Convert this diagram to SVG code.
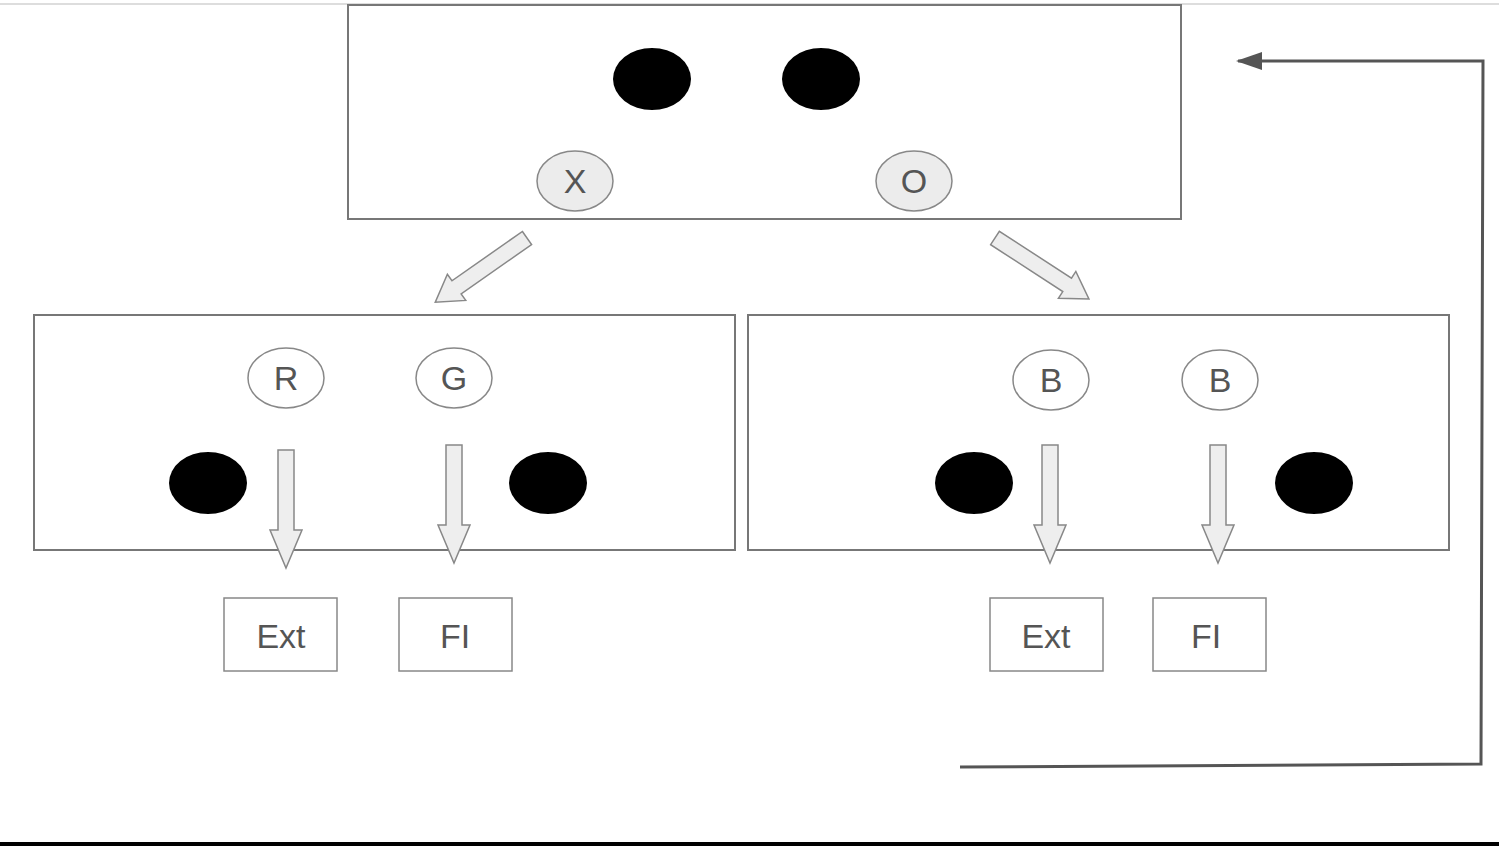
<svg xmlns="http://www.w3.org/2000/svg" xmlns:xlink="http://www.w3.org/1999/xlink" width="1499" height="846" viewBox="0 0 1499 846">
<style>
.box{fill:#fff;stroke:#777;stroke-width:2}
.lbl{fill:#fff;stroke:#888;stroke-width:1.5}
.dot{fill:#000}
.oval{fill:#ececec;stroke:#888;stroke-width:1.5}
.ovalw{fill:#fff;stroke:#888;stroke-width:1.5}
.t{font-family:"Liberation Sans",Arial,sans-serif;font-size:34px;fill:#555;text-anchor:middle}
.blk{fill:#eee;stroke:#888;stroke-width:1.5}
</style>
<defs>
<path id="arr" d="M-8,0 L8,0 L8,80 L16,80 L0,118 L-16,80 L-8,80 Z"/>
<path id="darr" d="M-8,0 L8,0 L8,86 L16,86 L0,112 L-16,86 L-8,86 Z"/>
<marker id="ah" markerWidth="26" markerHeight="18" refX="24" refY="9" orient="auto" markerUnits="userSpaceOnUse"><path d="M26,9 L0,0 L0,18 Z" fill="#555"/></marker>
</defs>
<rect width="1499" height="846" fill="#fff"/>
<line x1="0" y1="4" x2="1499" y2="4" stroke="#ddd" stroke-width="2"/>
<rect x="0" y="842" width="1499" height="4" fill="#000"/>
<g id="top"><rect class="box" x="348" y="5" width="833" height="214"/>
<ellipse class="dot" cx="652" cy="79" rx="39" ry="31"/><ellipse class="dot" cx="821" cy="79" rx="39" ry="31"/>
<ellipse class="oval" cx="575" cy="181" rx="38" ry="30"/><text class="t" x="575" y="193">X</text>
<ellipse class="oval" cx="914" cy="181" rx="38" ry="30"/><text class="t" x="914" y="193">O</text></g>
<g id="left"><rect class="box" x="34" y="315" width="701" height="235"/>
<ellipse class="ovalw" cx="286" cy="378" rx="38" ry="30"/><text class="t" x="286" y="390">R</text>
<ellipse class="ovalw" cx="454" cy="378" rx="38" ry="30"/><text class="t" x="454" y="390">G</text>
<ellipse class="dot" cx="208" cy="483" rx="39" ry="31"/><ellipse class="dot" cx="548" cy="483" rx="39" ry="31"/></g>
<g id="right"><rect class="box" x="748" y="315" width="701" height="235"/>
<ellipse class="ovalw" cx="1051" cy="380" rx="38" ry="30"/><text class="t" x="1051" y="392">B</text>
<ellipse class="ovalw" cx="1220" cy="380" rx="38" ry="30"/><text class="t" x="1220" y="392">B</text>
<ellipse class="dot" cx="974" cy="483" rx="39" ry="31"/><ellipse class="dot" cx="1314" cy="483" rx="39" ry="31"/></g>
<g id="ext1"><rect class="lbl" x="224" y="598" width="113" height="73"/><text class="t" x="281" y="648">Ext</text></g>
<g id="fi1"><rect class="lbl" x="399" y="598" width="113" height="73"/><text class="t" x="455" y="648">FI</text></g>
<g id="ext2"><rect class="lbl" x="990" y="598" width="113" height="73"/><text class="t" x="1046" y="648">Ext</text></g>
<g id="fi2"><rect class="lbl" x="1153" y="598" width="113" height="73"/><text class="t" x="1206" y="648">FI</text></g>
<g id="connectors">
<use xlink:href="#darr" class="blk" transform="translate(527,238) rotate(55)"/>
<use xlink:href="#darr" class="blk" transform="translate(995,238) rotate(-57)"/>
<use xlink:href="#arr" class="blk" transform="translate(286,450)"/>
<use xlink:href="#arr" class="blk" transform="translate(454,445)"/>
<use xlink:href="#arr" class="blk" transform="translate(1050,445)"/>
<use xlink:href="#arr" class="blk" transform="translate(1218,445)"/>
<polyline points="960,767 1481,764 1483,61 1238,61" fill="none" stroke="#555" stroke-width="3" marker-end="url(#ah)"/>
</g>
</svg>
